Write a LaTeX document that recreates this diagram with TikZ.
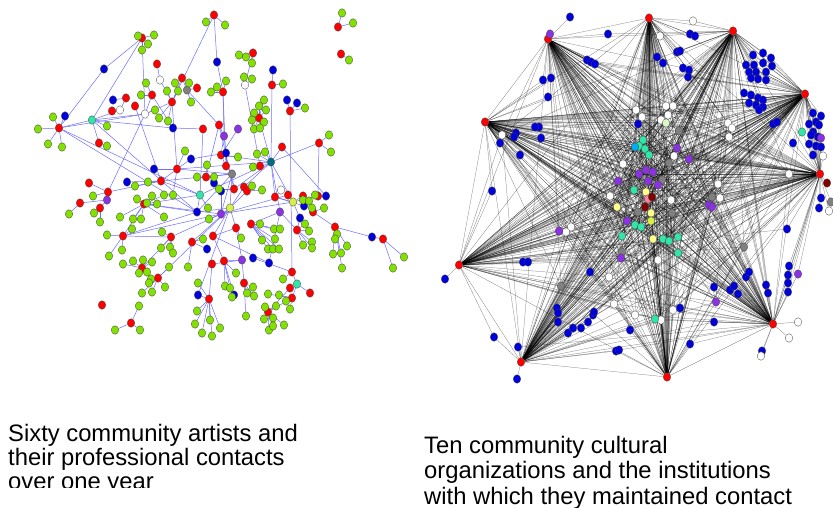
\documentclass[tikz,border=0pt]{standalone}
\usepackage{fontspec}
\setmainfont{Liberation Sans}
\usetikzlibrary{shapes.geometric}
\pgfdeclarelayer{bg}
\pgfsetlayers{bg,main}
\definecolor{netred}{RGB}{255,0,0}
\definecolor{netgreen}{RGB}{130,225,0}
\definecolor{netblue}{RGB}{0,0,220}
\definecolor{netpurple}{RGB}{140,50,230}
\definecolor{netteal}{RGB}{50,230,170}
\definecolor{netdteal}{RGB}{0,110,130}
\definecolor{netlime}{RGB}{215,240,70}
\definecolor{netyellow}{RGB}{255,255,140}
\definecolor{netpink}{RGB}{255,130,160}
\definecolor{netdark}{RGB}{130,0,0}
\definecolor{netpale}{RGB}{220,250,200}
\definecolor{netlink}{RGB}{110,110,255}
\tikzset{
 dt/.style
  = {ellipse, draw=black!75, line width=0.3pt, inner sep=0pt,
     minimum width=7.5pt, minimum height=8.5pt},
 rd/.style = {dt, fill=netred},
 gn/.style = {dt, fill=netgreen},
 bu/.style = {dt, fill=netblue},
 pu/.style = {dt, fill=netpurple},
 tq/.style = {dt, fill=netteal},
 dq/.style = {dt, fill=netdteal},
 gy/.style = {dt, fill=gray},
 wh/.style = {dt, fill=white},
 lm/.style = {dt, fill=netlime},
 lb/.style
  = {draw, line width=0.5pt, netlink},
 lk/.style
  = {draw, line width=0.25pt, black, opacity=0.55},
 captxt/.style
  = {anchor=base west, align=left, inner sep=0pt}
}
% green contacts: x/y/artist
\newcommand\artleaves{206/22/r1, 225/25/r1, 342/13/r2, 353/23/r2, 349/60/r3,
  138/36/r4, 154/35/r4, 148/44/r4, 142/50/r4, 146/83/r12, 175/83/r6, 189/83/r6, 178/91/r8,
  167/91/r8, 191/102/y1, 141/95/r12, 155/110/w3, 159/118/r8, 168/121/r8, 53/117/r13,
  38/129/r13, 107/126/t1, 48/144/r13, 62/147/r13, 107/146/r14, 211/92/r17, 217/87/r17,
  226/81/r17, 239/55/r18, 246/57/r18, 252/63/r18, 244/77/w4, 252/79/w4, 283/84/r19,
  264/100/r20, 259/106/r20, 266/110/r20, 254/113/r20, 264/122/r20, 254/129/r20, 260/128/r20,
  252/120/r20, 305/108/r21, 329/135/r22, 331/152/r22, 257/154/d1, 265/152/d1, 253/167/r24,
  238/157/r25, 207/165/r27, 197/177/r27, 214/177/r27, 219/189/r28, 252/186/r29, 262/190/r30,
  185/151/r31, 148/182/r32, 135/186/r32, 93/196/r33, 69/214/r35, 94/213/r36, 100/222/r36,
  152/196/r37, 164/195/r37, 173/195/r31, 137/199/r37, 147/203/r37, 157/204/r37, 164/217/r37,
  120/217/r37, 133/219/r37, 141/219/r37, 208/208/t2, 209/219/p4, 315/195/r41, 303/200/r40,
  309/201/r40, 312/208/r42, 324/208/r42, 305/224/r43, 309/231/r43, 303/245/r43, 312/242/r43,
  312/248/r43, 337/234/r44, 335/239/r44, 333/254/r44, 341/253/r44, 347/246/r44, 342/268/r44,
  404/257/r45, 393/268/r45, 107/235/r46, 132/229/r46, 122/250/r46, 109/256/r46, 162/232/r47,
  170/247/r47, 173/253/r47, 161/248/r47, 203/239/r48, 188/267/r48, 260/224/r51, 241/238/r50,
  274/229/r51, 280/229/r51, 275/239/r51, 262/240/r51, 268/249/r51, 273/249/r51, 279/249/r51,
  236/273/r52, 283/279/r54, 268/294/r57, 279/295/r57, 265/307/r58, 276/306/r58, 290/309/r57,
  286/301/r57, 264/319/r58, 273/318/r58, 269/330/r58, 273/326/r58, 284/325/r58, 253/287/r59,
  247/293/r59, 254/296/r59, 246/316/r59, 225/286/r52, 230/288/r52, 232/297/b24, 198/283/r60,
  197/311/r60, 210/320/r60, 195/324/r60, 202/333/r60, 212/336/r60, 220/328/r60, 133/261/r61,
  143/260/r61, 152/262/r61, 139/273/r61, 147/272/r61, 151/279/r62, 149/283/r62, 142/293/r62,
  152/292/r62, 165/287/r62, 169/267/r62, 123/264/r61, 139/306/r64, 115/330/r64, 140/330/r64}
% institutions tied to every organization: x/y/colour
\newcommand\orgcore{636/110/white, 642/117/white, 661/120/white, 666/106/white,
  673/106/white, 668/115/white, 502/135/white, 623/164/white, 610/196/white, 671/200/white,
  720/198/white, 718/184/white, 674/156/white, 728/123/white, 732/128/white, 729/137/white,
  789/174/white, 571/227/white, 566/232/white, 658/260/white, 609/277/white, 614/304/white,
  635/315/white, 661/320/white, 673/310/white, 679/131/gray, 669/163/gray, 662/180/gray,
  638/212/gray, 672/213/gray, 712/197/gray, 744/247/gray, 622/252/gray, 561/286/gray,
  677/148/netpurple, 689/159/netpurple, 618/181/netpurple, 639/174/netpurple,
  646/170/netpurple, 653/172/netpurple, 648/181/netpurple, 658/185/netpurple,
  709/205/netpurple, 712/207/netpurple, 627/221/netpurple, 559/231/netpurple,
  621/258/netpurple, 716/302/netpurple, 643/140/netteal, 639/146/netteal, 645/149/netteal,
  649/155/netteal, 634/190/netteal, 635/225/netteal, 641/227/netteal, 622/236/netteal,
  663/239/netteal, 669/241/netteal, 678/237/netteal, 678/253/netteal, 655/319/netteal,
  635/147/cyan, 646/192/netyellow, 617/207/netyellow, 651/213/netyellow, 653/239/netyellow,
  651/221/netlime, 648/199/netpink, 652/197/netdark, 645/207/netdark, 666/123/netpale}
% institutions tied to one or two organizations: x/y/colour/org/org
\newcommand\orgrim{570/17/netblue/3/3, 608/34/netblue/3/2,
  690/34/netblue/1/2, 695/36/netblue/1/2, 657/57/netblue/1/9, 663/63/netblue/1/10,
  677/52/netblue/1/2, 680/51/netblue/1/2, 683/68/netblue/2/7, 689/70/netblue/2/7,
  688/77/netblue/2/9, 587/60/netblue/3/4, 591/62/netblue/3/4, 595/64/netblue/3/4,
  543/80/netblue/3/5, 551/78/netblue/3/5, 548/97/netblue/3/5, 753/55/netblue/2/4,
  763/53/netblue/2/4, 771/58/netblue/2/4, 746/65/netblue/2/4, 754/65/netblue/2/4,
  763/63/netblue/2/4, 772/66/netblue/2/4, 749/72/netblue/2/4, 756/72/netblue/2/4,
  766/72/netblue/2/4, 751/78/netblue/2/4, 758/79/netblue/2/4, 766/80/netblue/2/4,
  744/93/netblue/4/2, 751/95/netblue/4/2, 758/98/netblue/4/2, 763/100/netblue/4/2,
  749/103/netblue/4/5, 756/105/netblue/4/5, 763/107/netblue/4/5, 759/110/netblue/4/5,
  773/124/netblue/4/7, 777/122/netblue/4/7, 793/143/netblue/6/4, 813/113/netblue/4/6,
  821/116/netblue/4/6, 809/124/netblue/4/6, 816/122/netblue/4/6, 813/132/netblue/4/6,
  819/125/netblue/4/6, 811/135/netblue/6/4, 818/137/netblue/6/4, 809/144/netblue/6/4,
  816/146/netblue/6/4, 821/147/netblue/6/4, 813/155/netblue/6/4, 821/198/netblue/6/6,
  819/208/netblue/6/6, 539/127/netblue/5/6, 535/127/netblue/5/6, 516/133/netblue/5/6,
  514/137/netblue/5/6, 541/138/netblue/5/6, 500/143/netblue/5/5, 520/155/netblue/5/5,
  492/191/netblue/5/7, 445/279/netblue/7/7, 523/262/netblue/7/6, 528/262/netblue/7/6,
  590/272/netblue/9/3, 557/308/netblue/9/4, 558/313/netblue/9/4, 558/322/netblue/9/4,
  568/333/netblue/9/4, 573/328/netblue/9/4, 581/328/netblue/9/4, 588/322/netblue/9/4,
  593/315/netblue/9/4, 594/312/netblue/9/4, 494/337/netblue/7/9, 518/347/netblue/9/8,
  517/379/netblue/9/9, 630/330/netblue/10/3, 616/351/netblue/9/10, 619/350/netblue/9/8,
  680/308/netblue/10/1, 690/344/netblue/10/8, 714/287/netblue/8/5, 714/322/netblue/8/9,
  730/290/netblue/8/5, 734/286/netblue/8/5, 738/294/netblue/8/5, 746/277/netblue/8/3,
  749/272/netblue/8/3, 766/285/netblue/8/2, 768/293/netblue/8/2, 787/229/netblue/6/7,
  789/266/netblue/8/6, 788/275/netblue/8/6, 788/283/netblue/8/6, 788/292/netblue/8/6,
  762/351/netblue/8/8, 638/124/netblue/1/10, 693/21/white/1/2, 660/36/white/1/2,
  550/34/netpurple/3/3, 798/274/netpurple/8/6, 821/138/netpurple/6/4, 802/132/netteal/6/4,
  831/202/gray/6/6, 798/322/white/8/8, 789/338/white/8/8, 823/156/white/6/6,
  829/211/white/6/6, 761/356/white/8/8, 827/183/netdark/6/6}

\begin{document}
\begin{tikzpicture}[x=1pt, y=-1pt]
    \useasboundingbox (0,0) rectangle (833,508);
    \clip (0,0) rectangle (833,508);

    % artists
    \foreach \n/\x/\y in {r1/214/15, r2/338/27, r3/341/54, r4/142/38, r5/157/64, r6/182/78,
      r7/197/88, r8/172/102, r9/126/98, r10/112/111, r11/135/106, r12/152/95, r13/59/128,
      r14/99/143, r15/203/129, r16/219/125, r17/223/92, r18/253/53, r19/272/85, r20/259/118,
      r21/290/111, r22/319/143, r23/282/147, r24/260/166, r25/221/155, r26/226/166, r27/206/177,
      r28/234/189, r29/244/187, r30/247/191, r31/177/169, r32/161/181, r33/108/192, r34/89/183,
      r35/80/203, r36/100/208, r37/144/204, r38/288/195, r39/275/197, r40/303/196, r41/318/196,
      r42/313/212, r43/297/230, r44/335/227, r45/383/239, r46/123/236, r47/171/237, r48/192/242,
      r49/213/236, r50/236/228, r51/251/224, r52/224/261, r53/212/264, r54/292/272, r55/310/293,
      r56/290/288, r57/292/298, r58/268/312, r59/244/283, r60/209/299, r61/142/268, r62/158/278,
      r63/102/305, r64/131/323}
      \node [rd] (\n) at (\x,\y) {};
    \foreach \n/\x/\y in {b1/104/69, b2/217/62, b3/273/70, b4/113/100, b5/65/116, b6/287/100,
      b7/297/103, b8/173/128, b9/226/153, b10/191/159, b11/154/169, b12/127/182, b13/214/183,
      b14/221/191, b15/197/212, b16/326/196, b17/304/206, b18/300/218, b19/372/237, b20/207/249,
      b21/253/258, b22/269/263, b23/198/295, b24/234/295}
      \node [bu] (\n) at (\x,\y) {};
    \foreach \n/\x/\y in {p1/238/129, p2/224/136, p3/107/200, p4/221/214, p5/280/212, p6/242/260}
      \node [pu] (\n) at (\x,\y) {};
    \foreach \n/\x/\y in {t1/92/120, t2/200/195, t3/297/284}
      \node [tq] (\n) at (\x,\y) {};
    \foreach \n/\x/\y in {w1/160/80, w2/120/110, w3/145/114, w4/245/85, w5/281/190}
      \node [wh] (\n) at (\x,\y) {};
    \node [dq] (d1) at (271,162) {};
    \node [gy] (y1) at (187,90) {};
    \node [gy] (y2) at (232,174) {};
    \node [lm] (v1) at (230,208) {};
    \node [lm] (v2) at (293,202) {};
    \foreach \x/\y/\h [count=\i] in \artleaves
      \node [gn] (g\i) at (\x,\y) {};

    % organizations
    \foreach \n/\x/\y in {h1/649/18, h2/733/31, h3/548/39, h4/805/94, h5/485/122,
      h6/820/174, h7/459/265, h8/773/324, h9/521/362, h10/667/377}
      \node [rd] (\n) at (\x,\y) {};
    \foreach \x/\y/\c [count=\i] in \orgcore
      \node [dt, fill=\c] (c\i) at (\x,\y) {};
    \foreach \x/\y/\c/\p/\q [count=\i] in \orgrim
      \node [dt, fill=\c] (e\i) at (\x,\y) {};

    \begin{pgfonlayer}{bg}
    \fill [white] (0,0) rectangle (833,508);
    \foreach \x/\y/\h [count=\i] in \artleaves
      \path [lb] (g\i) -- (\h);
    \foreach \a/\b in {b1/r13, b1/r4, r4/t1, r4/w3, r13/t1, r13/b5, t1/w2, t1/w3, w2/r9, r10/w2,
      r9/b4, r12/w3, t1/b8, b8/r15, r13/t2, r13/b15, t1/b15, r14/t1, r13/w3, r5/w1, w1/r8, r8/r6,
      r6/y1, r7/y1, y1/r16, r8/w3, w3/r33, r1/r8, r1/b2, b2/r17, r17/p2, r17/r26, r16/p2, p1/r25,
      p2/r25, p2/b9, r16/r27, r18/w4, w4/r24, b3/r19, r19/d1, b6/r21, b7/r21, r21/r54, d1/r22,
      d1/r23, d1/v2, d1/r25, d1/r28, d1/t2, d1/r29, d1/p5, d1/r39, d1/r31, v2/r39, v2/r38, v2/p4,
      v2/b18, v2/r41, v2/r40, w5/r39, r44/b19, b19/r45, r42/r44, b16/r41, b9/r26, r26/y2, y2/r27,
      y2/r28, y2/r31, y2/r32, y2/p4, y2/v1, y2/b15, r25/r26, r27/b13, b13/b14, b14/p4, p4/v1,
      v1/r29, v1/r30, v1/b15, b15/t2, t2/r32, r32/r31, r31/b10, b10/b9, b11/r31, b12/r32,
      r32/r33, r33/r34, r33/p3, p3/r35, p3/r36, r37/p4, r37/b15, r37/t2, r37/r46, r46/p4,
      r46/b15, r46/r47, r47/p4, r48/v1, r48/b20, r49/v1, r49/r50, r50/p6, r50/v1, r51/p5,
      r52/p6, p6/r53, p6/r59, r53/r60, r60/b23, b23/v1, b21/r54, r54/t3, t3/r55, t3/r56, t3/r57,
      r56/r58, r57/r58, b22/p5, b22/r49, r52/r49, b24/r52, r62/v1, r61/r47, r43/b18, r43/p5,
      b17/r39, r38/p4, r22/r41, r15/t2, r8/r31, r11/r32, r12/b8, r16/r28, r20/d1, r23/b16}
      \path [lb] (\a) -- (\b);

    \foreach \x/\y/\c [count=\i] in \orgcore
      \foreach \h in {1,...,10}
        \path [lk] (c\i) -- (h\h);
    \foreach \x/\y/\c/\p/\q [count=\i] in \orgrim
      \path [lk] (e\i) -- (h\p) (e\i) -- (h\q);
    \foreach \a in {1,...,10}
      \foreach \b in {1,...,10}
        {\ifnum\a<\b \path [lk] (h\a) -- (h\b);\fi}
    \end{pgfonlayer}

    \begin{scope}
      \clip (0,0) rectangle (416,487);
      \node [captxt, font=\fontsize{23.8}{24}\selectfont] (artists) at (8,489)
        {Sixty community artists and\\their professional contacts\\over one year};
    \end{scope}
    \node [captxt, font=\fontsize{23.8}{25.5}\selectfont] (orgs) at (424,504)
      {Ten community cultural\\organizations and the institutions\\with which they maintained contact};
\end{tikzpicture}
\end{document}
